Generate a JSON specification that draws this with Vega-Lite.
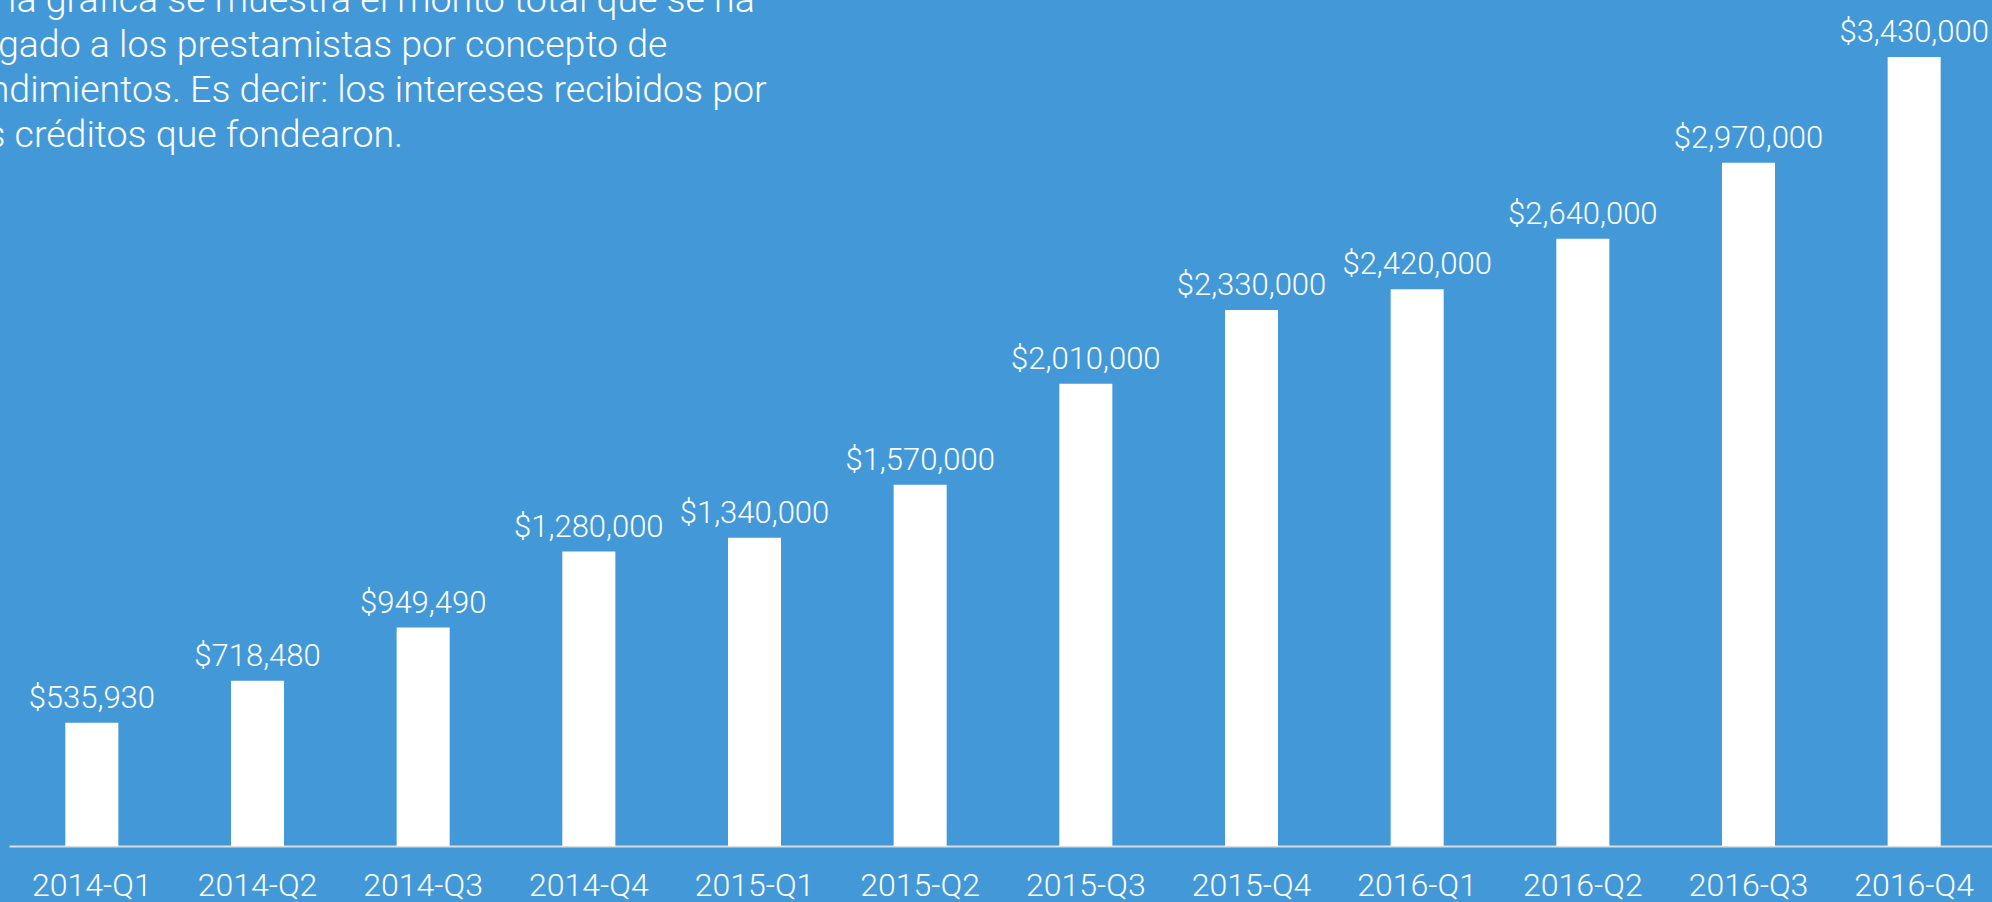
{
  "$schema": "https://vega.github.io/schema/vega-lite/v6.json",
  "width": 1988,
  "height": 789,
  "autosize": "none",
  "padding": {"left": 9, "top": 57, "right": 0, "bottom": 56},
  "background": "#4399D8",
  "config": {"view": {"stroke": null}, "font": "Roboto"},
  "title": {
    "text": ["En la gráfica se muestra el monto total que se ha", "pagado a los prestamistas por concepto de", "rendimientos. Es decir: los intereses recibidos por", "los créditos que fondearon."],
    "anchor": "start",
    "frame": "group",
    "orient": "top",
    "offset": 0,
    "dx": -52,
    "dy": 167,
    "baseline": "alphabetic",
    "fontSize": 37.5,
    "fontWeight": 300,
    "font": "Roboto",
    "color": "white",
    "lineHeight": 45
  },
  "data": {"values": [
    {"q": "2014-Q1", "v": 535930},
    {"q": "2014-Q2", "v": 718480},
    {"q": "2014-Q3", "v": 949490},
    {"q": "2014-Q4", "v": 1280000},
    {"q": "2015-Q1", "v": 1340000},
    {"q": "2015-Q2", "v": 1570000},
    {"q": "2015-Q3", "v": 2010000},
    {"q": "2015-Q4", "v": 2330000},
    {"q": "2016-Q1", "v": 2420000},
    {"q": "2016-Q2", "v": 2640000},
    {"q": "2016-Q3", "v": 2970000},
    {"q": "2016-Q4", "v": 3430000}
  ]},
  "encoding": {
    "x": {
      "field": "q", "type": "ordinal", "sort": null,
      "scale": {"paddingInner": 0.68, "paddingOuter": 0.34},
      "axis": {
        "title": null, "ticks": false, "tickSize": 0, "labelAngle": 0,
        "labelPadding": 49, "labelBaseline": "alphabetic",
        "labelFont": "Roboto", "labelFontWeight": 300, "labelFontSize": 32, "labelColor": "white",
        "domainColor": "#dcdcdc", "domainWidth": 2, "grid": false
      }
    },
    "y": {"field": "v", "type": "quantitative", "scale": {"domain": [0, 3430000], "nice": false}, "axis": null}
  },
  "layer": [
    {"mark": {"type": "bar", "color": "white"}},
    {
      "mark": {"type": "text", "color": "white", "dy": -15, "baseline": "alphabetic", "fontSize": 31, "fontWeight": 300, "font": "Roboto"},
      "encoding": {"text": {"field": "v", "type": "quantitative", "format": "$,d"}}
    }
  ]
}
